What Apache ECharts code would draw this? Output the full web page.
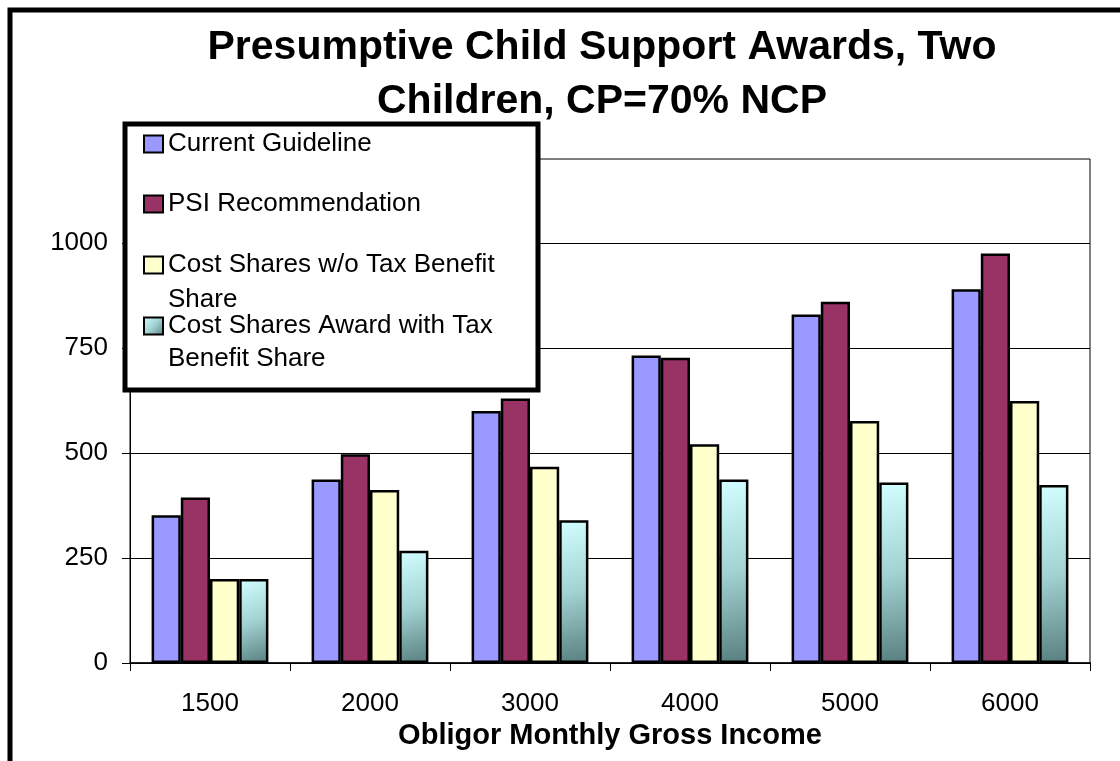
<!DOCTYPE html>
<html>
<head>
<meta charset="utf-8">
<script src="https://cdn.jsdelivr.net/npm/echarts@6/dist/echarts.min.js"></script>
<style>
html,body{margin:0;padding:0;background:#fff;}
#chart{width:1120px;height:761px;}
</style>
</head>
<body>
<div id="chart"></div>
<script>
// ---- Data ----
const titleLines = ['Presumptive Child Support Awards, Two', 'Children, CP=70% NCP'];
const xAxisTitle = 'Obligor Monthly Gross Income';
const categories = ['1500', '2000', '3000', '4000', '5000', '6000'];
const seriesNames = ['Current Guideline', 'PSI Recommendation', 'Cost Shares w/o Tax Benefit', 'Cost Shares Award with Tax'];
const legendSecondLines = ['', '', 'Share', 'Benefit Share'];
const currentGuideline = [352, 437, 600, 732, 830, 890];
const psiRecommendation = [394, 497, 630, 727, 860, 975];
const costSharesNoTax = [200, 412, 467, 521, 576, 624];
const costSharesWithTax = [200, 267, 340, 437, 430, 424];
const yTicks = [0, 250, 500, 750, 1000];

const FONT = '"Liberation Sans", Arial, sans-serif';
const tealGrad = new echarts.graphic.LinearGradient(0, 0, 1, 1, [
  {offset: 0, color: '#D2FFFF'},
  {offset: 0.5, color: '#A2D2D2'},
  {offset: 1, color: '#587F7F'}
]);
const colors = ['#9999FF', '#993366', '#FFFFCC', tealGrad];
const values = [currentGuideline, psiRecommendation, costSharesNoTax, costSharesWithTax];

const chart = echarts.init(document.getElementById('chart'), null, {renderer: 'canvas'});

const legendCenters = [144, 204, 265, 326];
const legends = seriesNames.map((n, i) => ({
  data: [{name: n, icon: 'rect'}],
  left: 143,
  top: legendCenters[i] - 13,
  orient: 'vertical',
  padding: 0,
  itemWidth: 19,
  itemHeight: 17,
  selectedMode: false,
  z: 10,
  textStyle: {fontFamily: FONT, fontSize: 26, color: '#000', lineHeight: 26},
  itemStyle: {borderColor: '#000', borderWidth: 2}
}));

const option = {
  backgroundColor: '#fff',
  animation: false,
  title: {
    text: titleLines.join('\n'),
    left: 602,
    top: 21,
    textAlign: 'center',
    padding: 0,
    textStyle: {fontFamily: FONT, fontSize: 41, fontWeight: 'bold', color: '#000', lineHeight: 54}
  },
  legend: legends,
  grid: {
    left: 130, right: 30, top: 159, bottom: 98,
    show: true, borderColor: '#000', borderWidth: 1, backgroundColor: '#fff'
  },
  xAxis: {
    type: 'category',
    data: categories,
    name: xAxisTitle,
    nameLocation: 'middle',
    nameGap: 58,
    nameTextStyle: {fontFamily: FONT, fontSize: 29, fontWeight: 'bold', color: '#000'},
    axisLine: {lineStyle: {color: '#000', width: 1.5}},
    axisTick: {show: true, length: 8, lineStyle: {color: '#000'}},
    axisLabel: {fontFamily: FONT, fontSize: 26, color: '#000', margin: 28}
  },
  yAxis: {
    type: 'value',
    min: 0, max: 1200, interval: 250,
    axisLine: {show: true, lineStyle: {color: '#000', width: 1}},
    axisTick: {show: true, length: 8, lineStyle: {color: '#000'}, customValues: yTicks},
    axisLabel: {fontFamily: FONT, fontSize: 26, color: '#000', margin: 22, customValues: yTicks,
                formatter: v => String(v)},
    splitLine: {show: true, lineStyle: {color: '#000', width: 1}}
  },
  series: seriesNames.map((n, i) => ({
    name: n,
    type: 'bar',
    data: values[i],
    barGap: '0%',
    barCategoryGap: '27%',
    itemStyle: {color: colors[i], borderColor: '#000', borderWidth: 2.5}
  })),
  graphic: [
    {type: 'rect', z: 3, shape: {x: 125, y: 124, width: 413, height: 266},
     style: {fill: '#fff', stroke: '#000', lineWidth: 5}},
    {type: 'text', z: 10, left: 168, top: 300 - 13,
     style: {text: legendSecondLines[2], font: '26px ' + FONT, fill: '#000'}},
    {type: 'text', z: 10, left: 168, top: 359 - 13,
     style: {text: legendSecondLines[3], font: '26px ' + FONT, fill: '#000'}},
    {type: 'rect', z: 10, silent: true, shape: {x: 10, y: 10, width: 1300, height: 900},
     style: {fill: 'none', stroke: '#000', lineWidth: 5}}
  ]
};
chart.setOption(option);
</script>
</body>
</html>
